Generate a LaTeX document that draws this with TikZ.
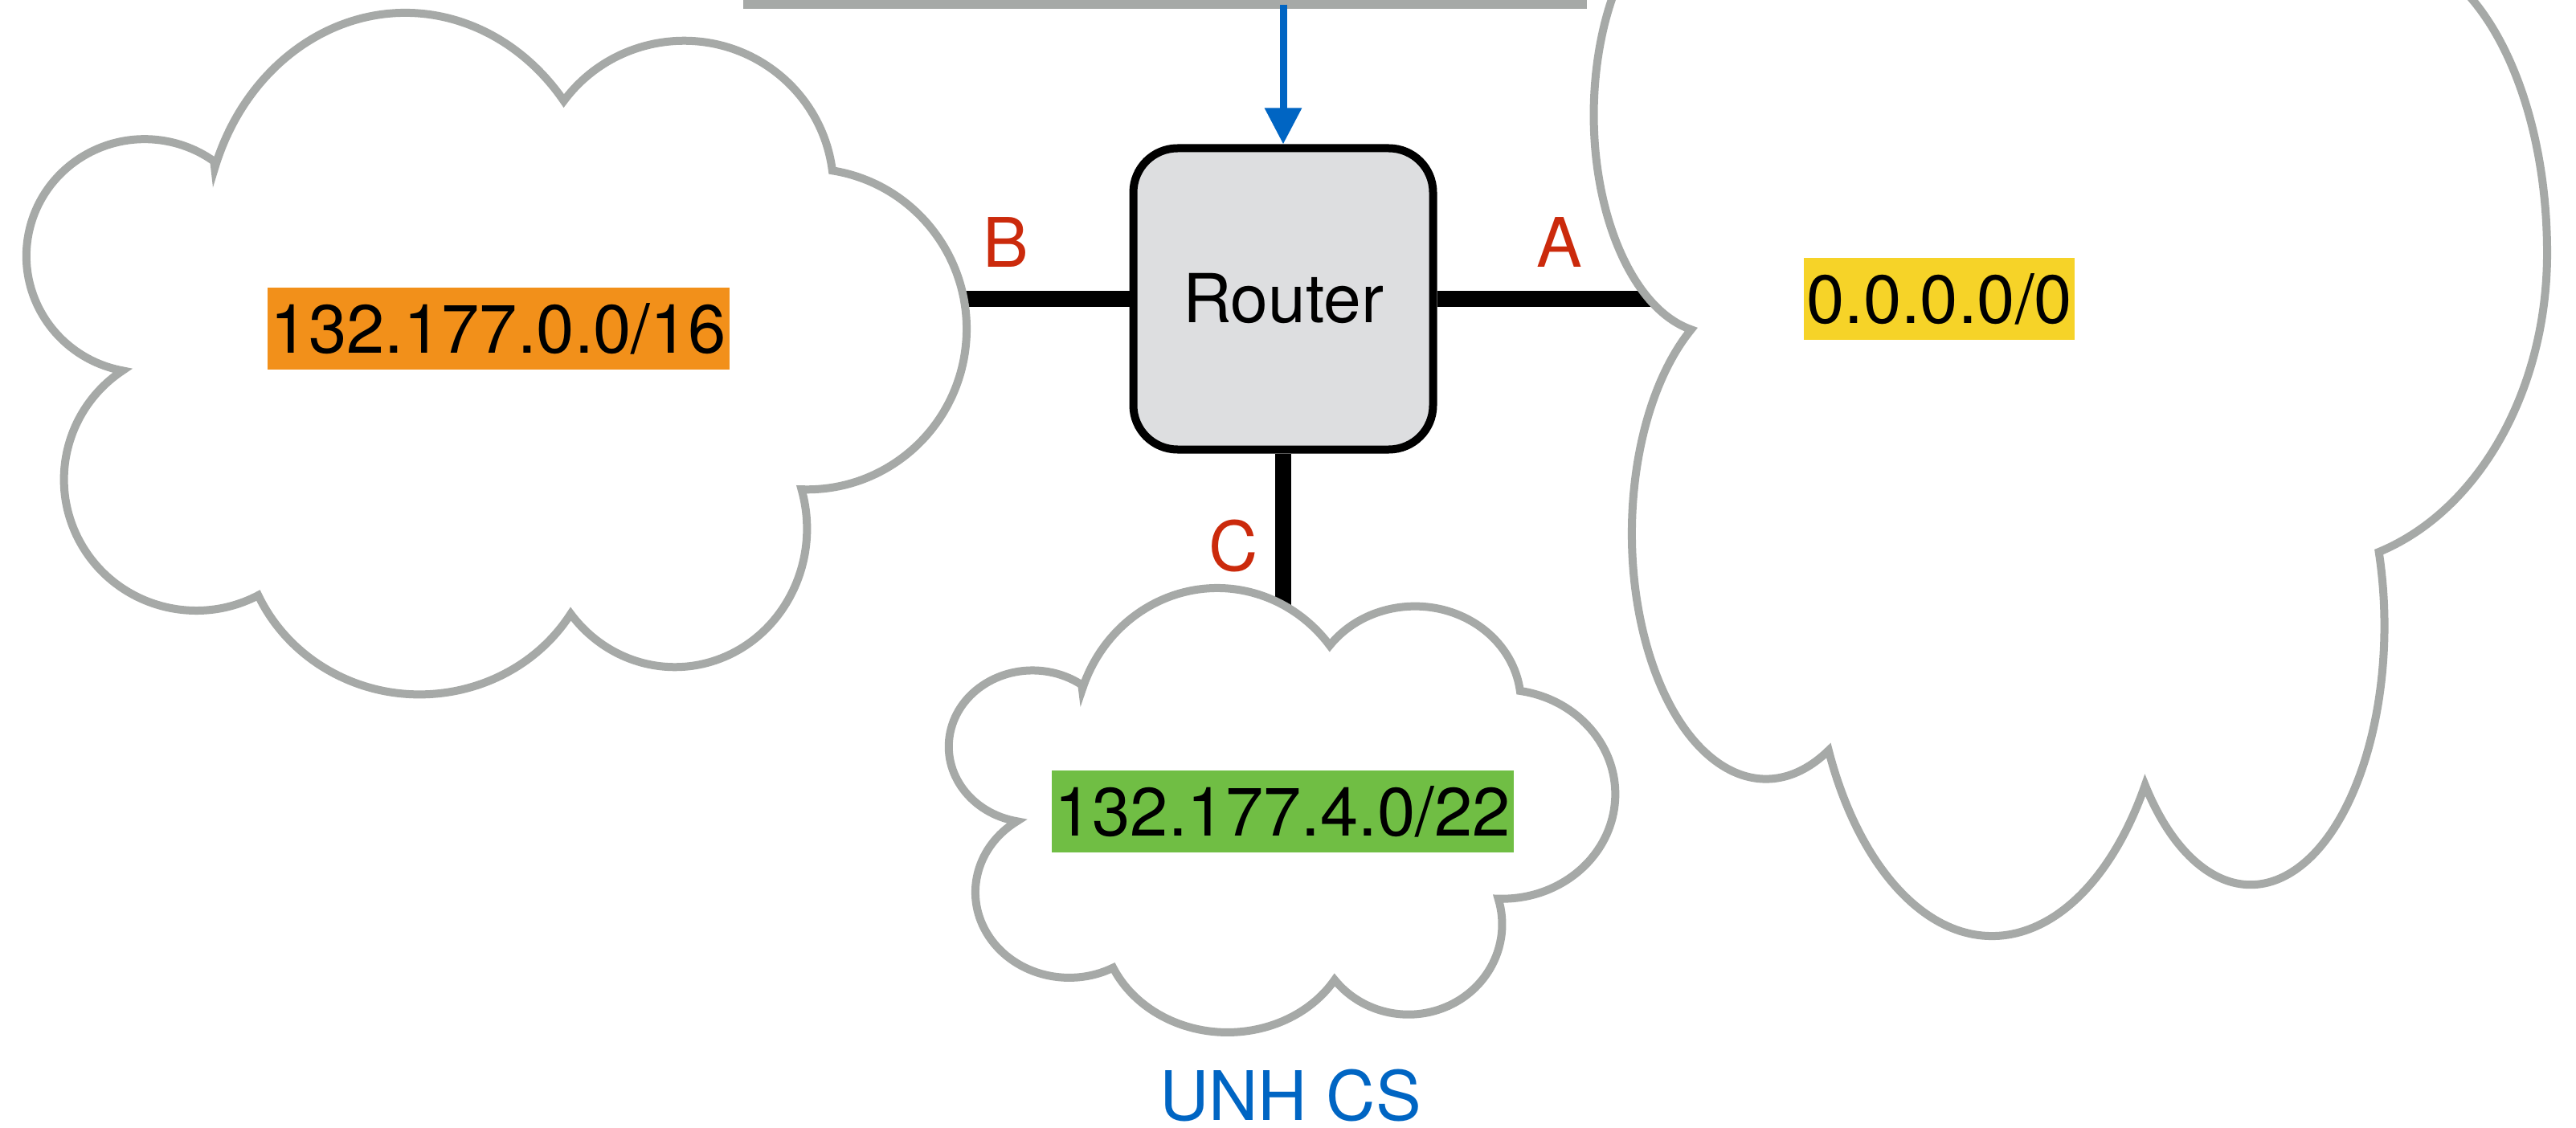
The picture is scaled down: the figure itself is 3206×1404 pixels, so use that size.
\documentclass[tikz,border=0pt]{standalone}
\usepackage{fontspec}
\setmainfont{TeX Gyre Heros}
\usetikzlibrary{arrows.meta}
\pgfdeclarelayer{background}
\pgfsetlayers{background,main}
\definecolor{cloudgray}{HTML}{A6A9A7}
\definecolor{routerfill}{HTML}{DDDEE0}
\definecolor{netorange}{HTML}{F2901A}
\definecolor{netyellow}{HTML}{F6D328}
\definecolor{netgreen}{HTML}{70BE44}
\definecolor{portred}{HTML}{CB2A0C}
\definecolor{unhblue}{HTML}{0065C3}
% cloud outline in a unit box (x right, y down)
\newcommand\cloudoutline{(0.198,0.227)
 arc[start angle=-161.0, end angle=-38.1, x radius=0.2147, y radius=0.3366]
 arc[start angle=-143.5, end angle=-7.2, x radius=0.1593, y radius=0.2173]
 arc[start angle=-80.9, end angle=92.0, x radius=0.17, y radius=0.235]
 arc[start angle=-16.5, end angle=142.0, x radius=0.1408, y radius=0.2026]
 arc[start angle=31.7, end angle=155.4, x radius=0.1892, y radius=0.2486]
 arc[start angle=62.1, end angle=236.1, x radius=0.141, y radius=0.192]
 arc[start angle=100.8, end angle=305.9, x radius=0.126, y radius=0.171]
 -- cycle}
% variant for the tall cloud (its right lobe meets the next one more steeply)
\newcommand\tallcloudoutline{(0.198,0.227)
 arc[start angle=-161.0, end angle=-38.1, x radius=0.2147, y radius=0.3366]
 arc[start angle=-143.5, end angle=-7.2, x radius=0.1593, y radius=0.2173]
 arc[start angle=-80.9, end angle=0, x radius=0.17, y radius=0.235]
 arc[start angle=0, end angle=72.3, x radius=0.2543, y radius=0.2453]
 arc[start angle=-16.5, end angle=142.0, x radius=0.1408, y radius=0.2026]
 arc[start angle=31.7, end angle=155.4, x radius=0.1892, y radius=0.2486]
 arc[start angle=62.1, end angle=236.1, x radius=0.141, y radius=0.192]
 arc[start angle=100.8, end angle=305.9, x radius=0.126, y radius=0.171]
 -- cycle}
\begin{document}
\begin{tikzpicture}[x=1pt,y=-1pt,
  cloud/.style={draw=cloudgray, fill=white, line width=10pt},
  bigtext/.style={font=\fontsize{85}{100}\selectfont, inner sep=0pt},
  netlabel/.style={bigtext, minimum height=102pt, text=black},
  port/.style={bigtext, text=portred},
  link/.style={draw=black, line width=20pt},
  router/.style={draw=black, fill=routerfill, line width=10pt, rounded corners=55pt,
    minimum width=373pt, minimum height=375pt, inner sep=0pt,
    font=\fontsize{84}{100}\selectfont},
  feed/.style={draw=unhblue, line width=9pt, -{Triangle[length=45pt, width=44pt]}}]
\useasboundingbox (0,0) rectangle (3206,1404);
\clip (0,0) rectangle (3206,1404);

% router and link end points
\node[router] (router) at (1597,372) {Router};
\coordinate (endB) at (1150,372);
\coordinate (endA) at (2100,372);
\coordinate (endC) at (1597,800);

\begin{pgfonlayer}{background}
\fill[white] (0,0) rectangle (3206,1404);
\draw[link] (router.west) -- (endB);
\draw[link] (router.east) -- (endA);
\draw[link] (router.south) -- (endC);
\end{pgfonlayer}

% clouds
\begin{scope}[shift={(36,16)}, xscale=1168, yscale=850]
\draw[cloud] \cloudoutline;
\end{scope}
\begin{scope}[shift={(1183,732)}, xscale=828, yscale=554]
\draw[cloud] \cloudoutline;
\end{scope}
\begin{scope}[shift={(1988,-422)}, xscale=1183, yscale=1592]
\draw[cloud] \tallcloudoutline;
\end{scope}

% network labels
\node[netlabel, fill=netorange, minimum width=575pt] (netB) at (620.5,409) {132.177.0.0/16};
\node[netlabel, fill=netgreen, minimum width=575pt] (netC) at (1596,1010) {132.177.4.0/22};
\node[netlabel, fill=netyellow, minimum width=337pt] (netA) at (2413.5,372) {0.0.0.0/0};

% port labels
\node[port] (portB) at (1252,302) {B};
\node[port] (portA) at (1941,302) {A};
\node[port] (portC) at (1535,680) {C};
\node[bigtext, text=unhblue] (unh) at (1606,1364) {UNH CS};

% top bar and feed arrow
\node[fill=cloudgray, minimum width=1050pt, minimum height=11pt, inner sep=0pt, anchor=north west] (bar) at (925,0) {};
\draw[feed] (router.north |- bar.center) -- (router.north);
\end{tikzpicture}
\end{document}
